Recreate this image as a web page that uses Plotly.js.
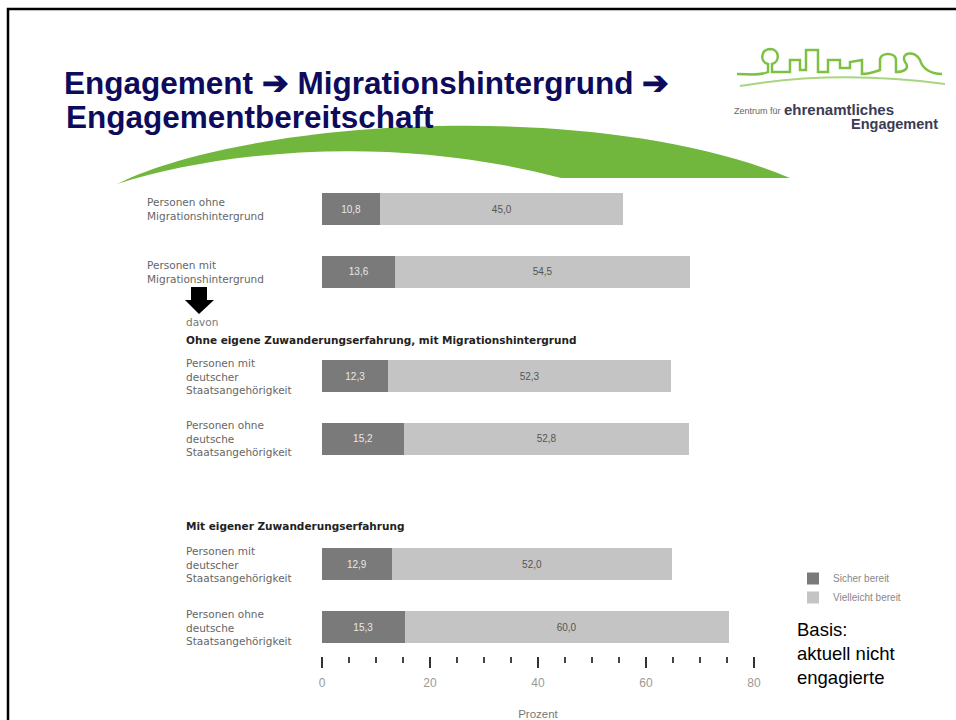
<!DOCTYPE html>
<html>
<head>
<meta charset="utf-8">
<script src="https://cdn.plot.ly/plotly-3.0.1.min.js"></script>
<style>html,body{margin:0;padding:0;background:#fff;}#chart{width:956px;height:720px;}</style>
</head>
<body>
<div id="chart"></div>
<script>
// ---- data ----
var rowKeys = ["ohneMH", "mitMH", "ohneZE_dt", "ohneZE_ndt", "mitZE_dt", "mitZE_ndt"];
var rowLabels = [
  "Personen ohne<br>Migrationshintergrund",
  "Personen mit<br>Migrationshintergrund",
  "Personen mit<br>deutscher<br>Staatsangehörigkeit",
  "Personen ohne<br>deutsche<br>Staatsangehörigkeit",
  "Personen mit<br>deutscher<br>Staatsangehörigkeit",
  "Personen ohne<br>deutsche<br>Staatsangehörigkeit"
];
var sicherBereit = [10.8, 13.6, 12.3, 15.2, 12.9, 15.3];
var vielleichtBereit = [45.0, 54.5, 52.3, 52.8, 52.0, 60.0];
var seriesNames = ["Sicher bereit", "Vielleicht bereit"];
var xTickVals = [0, 20, 40, 60, 80];
var titleLine1 = "Engagement ➔ Migrationshintergrund ➔";
var titleLine2 = "Engagementbereitschaft";

// ---- layout geometry ----
var W = 956, H = 720;
var M = {l: 322, r: 202, t: 185, b: 64};
var PW = W - M.l - M.r, PH = H - M.t - M.b;
function px(x) { return (x - M.l) / PW; }
function py(y) { return 1 - (y - M.t) / PH; }
function path(pts) {
  return pts.replace(/(-?\d+(\.\d+)?),(-?\d+(\.\d+)?)/g, function(m, a, b, c) {
    return px(parseFloat(a)).toFixed(5) + "," + py(parseFloat(c)).toFixed(5);
  });
}

// category order with spacer slots between groups
var catOrder = [rowKeys[0], "_s1", "_s2", rowKeys[1], "_s3", "_s4", "_s5", "_s6",
  rowKeys[2], "_s7", "_s8", rowKeys[3], "_s9", "_s10", "_s11", "_s12", "_s13",
  rowKeys[4], "_s14", "_s15", rowKeys[5]];
var step = 20.9;
var firstCenter = 209;
var yTop = (M.t - firstCenter) / step;
var yBot = (H - M.b - firstCenter) / step;

function fmt(v) { return v.toFixed(1).replace(".", ","); }

var font = "Liberation Sans, Arial, sans-serif";
var smallFont = "DejaVu Sans, Liberation Sans, sans-serif";
var traces = [
  {
    type: "bar", orientation: "h", name: seriesNames[0],
    y: rowKeys, x: sicherBereit, width: 1.53,
    marker: {color: "#7a7a7a"},
    text: sicherBereit.map(fmt), textposition: "inside", insidetextanchor: "middle",
    textfont: {color: "#e8e8e8", size: 10, family: font}, constraintext: "none"
  },
  {
    type: "bar", orientation: "h", name: seriesNames[1],
    y: rowKeys, x: vielleichtBereit, width: 1.53,
    marker: {color: "#c4c4c4"},
    text: vielleichtBereit.map(fmt), textposition: "inside", insidetextanchor: "middle",
    textfont: {color: "#555555", size: 10, family: font}, constraintext: "none"
  }
];

var annotations = [];
rowKeys.forEach(function(k, i) {
  annotations.push({
    xref: "paper", yref: "y", x: px(i < 2 ? 145 : 184), y: k,
    xanchor: "left", yanchor: "middle", align: "left", showarrow: false,
    text: rowLabels[i], font: {family: smallFont, size: 10.5, color: "#666"}
  });
});
annotations.push(
  {xref: "paper", yref: "paper", x: px(64), y: py(117), xanchor: "left", yanchor: "middle", showarrow: false,
   text: "<b>" + titleLine2 + "</b>", font: {family: font, size: 31.5, color: "#0d0b5c"}},
  {xref: "paper", yref: "paper", x: px(184), y: py(322), xanchor: "left", yanchor: "middle", showarrow: false,
   text: "davon", font: {family: smallFont, size: 10.5, color: "#777"}},
  {xref: "paper", yref: "paper", x: px(184), y: py(340), xanchor: "left", yanchor: "middle", showarrow: false,
   text: "<b>Ohne eigene Zuwanderungserfahrung, mit Migrationshintergrund</b>", font: {family: smallFont, size: 10.5, color: "#222"}},
  {xref: "paper", yref: "paper", x: px(184), y: py(526), xanchor: "left", yanchor: "middle", showarrow: false,
   text: "<b>Mit eigener Zuwanderungserfahrung</b>", font: {family: smallFont, size: 10.5, color: "#222"}},
  {xref: "paper", yref: "paper", x: px(795), y: py(617), xanchor: "left", yanchor: "top", align: "left", showarrow: false,
   text: "Basis:<br>aktuell nicht<br>engagierte", font: {family: font, size: 18.5, color: "#000"}},
  // logo text
  {xref: "paper", yref: "paper", x: px(732), y: py(111), xanchor: "left", yanchor: "middle", showarrow: false,
   text: "Zentrum für", font: {family: font, size: 9, color: "#666"}},
  {xref: "paper", yref: "paper", x: px(782), y: py(109), xanchor: "left", yanchor: "middle", showarrow: false,
   text: "<b>ehrenamtliches</b>", font: {family: font, size: 15, color: "#3b3b55"}},
  {xref: "paper", yref: "paper", x: px(940), y: py(124), xanchor: "right", yanchor: "middle", showarrow: false,
   text: "<b>Engagement</b>", font: {family: font, size: 14.5, color: "#3b3b55"}}
);

var shapes = [
  // green swoosh
  {type: "path", xref: "paper", yref: "paper", layer: "below",
   path: path("M117,184 C250,118 600,98 790,178 L800,240 L720,240 C500,122 250,142 117,184 Z"),
   fillcolor: "#72b73d", line: {width: 0}},
  // chart panel covering the swoosh bottom
  {type: "rect", xref: "paper", yref: "paper", layer: "below",
   x0: px(139), x1: px(950), y0: py(178), y1: py(712),
   fillcolor: "#ffffff", line: {width: 0}},
  // down arrow
  {type: "path", xref: "paper", yref: "paper", layer: "above",
   path: path("M191,287 L207,287 L207,300 L214,300 L199,314 L185,300 L191,300 Z"),
   fillcolor: "#000", line: {width: 0}},
  // logo skyline
  {type: "path", xref: "paper", yref: "paper", layer: "above",
   path: path("M737,74 C750,74 760,76 768,72 L768,64 C760,62 760,50 770,49 C780,49 780,62 772,64 L772,72 L790,72 L790,60 L800,60 L800,70 L806,70 L806,50 L818,50 L818,72 L828,72 L828,60 L840,60 L840,68 L850,68 L850,62 L862,60 L862,74 C870,74 874,72 880,70 L880,60 C880,52 896,52 896,60 L896,72 C905,72 910,68 905,62 C900,52 915,50 920,60 C922,68 930,74 942,74"),
   line: {color: "#7cc142", width: 2.5}},
  {type: "path", xref: "paper", yref: "paper", layer: "above",
   path: path("M740,86 C800,76 870,74 945,84"),
   line: {color: "#a8d67f", width: 2}},
  // slide border
  {type: "rect", xref: "paper", yref: "paper", layer: "above",
   x0: px(8), x1: px(970), y0: py(9), y1: py(730),
   line: {color: "#000", width: 2.5}}
];

var layout = {
  width: W, height: H,
  margin: M,
  paper_bgcolor: "#ffffff", plot_bgcolor: "rgba(0,0,0,0)",
  barmode: "stack",
  showlegend: true,
  font: {family: font},
  title: {
    text: "<b>" + titleLine1 + "</b>",
    x: 64 / W, xanchor: "left", xref: "container",
    y: 1 - 83 / H, yanchor: "middle", yref: "container",
    font: {family: font, size: 31.5, color: "#0d0b5c"}
  },
  xaxis: {
    range: [0, 80], tickvals: xTickVals, showgrid: false, zeroline: false, showline: false,
    ticks: "outside", ticklen: 11, tickwidth: 2, tickcolor: "#333",
    minor: {dtick: 5, ticks: "outside", ticklen: 6, tickwidth: 2, tickcolor: "#444", showgrid: false},
    tickfont: {family: font, size: 12, color: "#999"}, ticklabelstandoff: 5,
    title: {text: "Prozent", font: {family: font, size: 11.5, color: "#777"}, standoff: 20},
    fixedrange: true
  },
  yaxis: {
    type: "category", categoryorder: "array", categoryarray: catOrder,
    range: [yBot, yTop], showticklabels: false, ticks: "", showgrid: false,
    zeroline: false, showline: false, fixedrange: true
  },
  legend: {
    x: px(793), y: py(564), xanchor: "left", yanchor: "top",
    bgcolor: "rgba(0,0,0,0)", traceorder: "normal",
    font: {family: font, size: 10, color: "#888"}, itemwidth: 30
  },
  annotations: annotations,
  shapes: shapes
};

Plotly.newPlot("chart", traces, layout, {staticPlot: true, displayModeBar: false});
</script>
</body>
</html>
